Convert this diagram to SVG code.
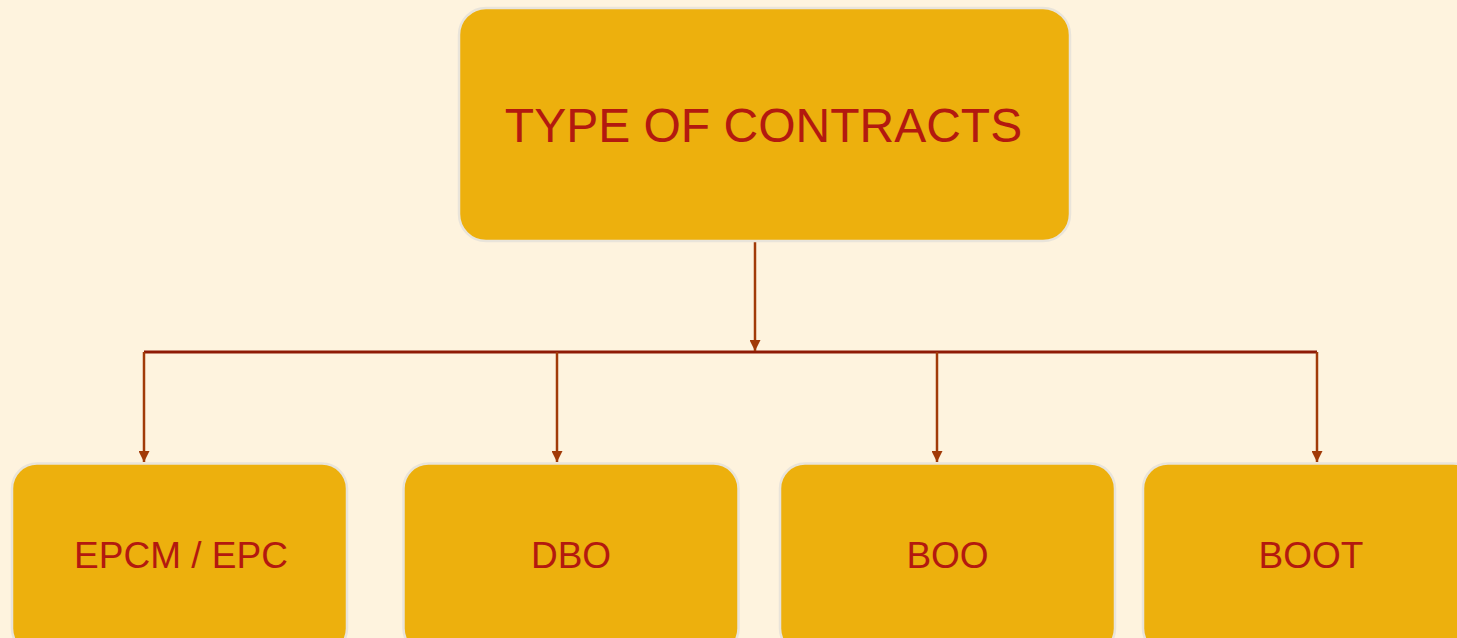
<svg xmlns="http://www.w3.org/2000/svg" width="1457" height="638" viewBox="0 0 1457 638">
  <style>
    .box { fill: #EDB00D; stroke: #E9E4DA; stroke-width: 2.5; }
    .label { font-family: "Liberation Sans", Arial, sans-serif; fill: #B3190F; text-anchor: middle; }
    .big { font-size: 48px; }
    .small { font-size: 37px; }
    .drop { stroke: #A13A08; stroke-width: 2.5; fill: none; }
    .bus { stroke: #8E1A05; stroke-width: 3; fill: none; }
  </style>
  <defs>
    <marker id="arrow" viewBox="0 0 10 10" refX="10" refY="5" markerWidth="11" markerHeight="11" markerUnits="userSpaceOnUse" orient="auto">
      <path d="M0,0 L10,5 L0,10 Z" fill="#A13A08"/>
    </marker>
  </defs>
  <rect width="1457" height="638" fill="#FEF3DE"/>

  <g id="connectors">
    <path class="bus" d="M144,352 H1317"/>
    <path class="drop" d="M755,241 V351" marker-end="url(#arrow)"/>
    <path class="drop" d="M144,352 V462" marker-end="url(#arrow)"/>
    <path class="drop" d="M557,352 V462" marker-end="url(#arrow)"/>
    <path class="drop" d="M937,352 V462" marker-end="url(#arrow)"/>
    <path class="drop" d="M1317,352 V462" marker-end="url(#arrow)"/>
  </g>

  <g id="node-root">
    <rect class="box" x="459" y="8" width="611" height="233" rx="27"/>
    <text class="label big" x="763.5" y="142">TYPE OF CONTRACTS</text>
  </g>
  <g id="node-epcm">
    <rect class="box" x="12" y="463.5" width="335" height="190" rx="25"/>
    <text class="label small" x="181" y="567.5">EPCM / EPC</text>
  </g>
  <g id="node-dbo">
    <rect class="box" x="403.5" y="463.5" width="335" height="190" rx="25"/>
    <text class="label small" x="571" y="567.5">DBO</text>
  </g>
  <g id="node-boo">
    <rect class="box" x="780" y="463.5" width="335" height="190" rx="25"/>
    <text class="label small" x="947.5" y="567.5">BOO</text>
  </g>
  <g id="node-boot">
    <rect class="box" x="1143" y="463.5" width="335" height="190" rx="25"/>
    <text class="label small" x="1311" y="567.5">BOOT</text>
  </g>
</svg>
